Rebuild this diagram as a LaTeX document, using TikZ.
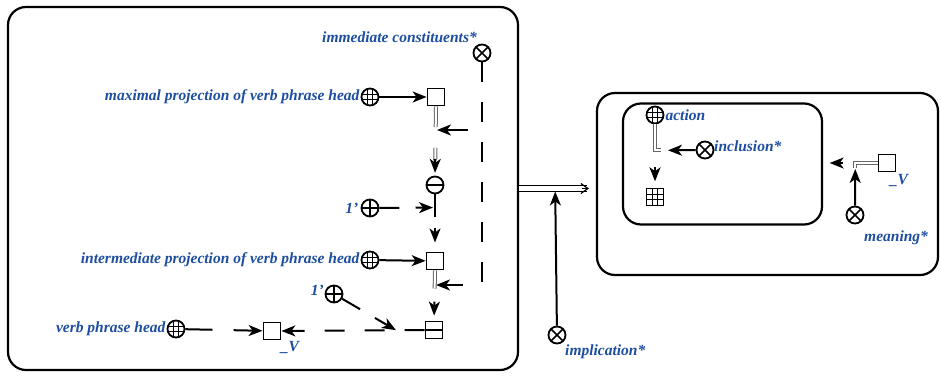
\documentclass[tikz,border=0pt]{standalone}
\usepackage{fontspec}
\setmainfont{Liberation Serif}
\usetikzlibrary{arrows.meta,calc}
\definecolor{lblue}{RGB}{30,78,160}
\tikzset{
  lab/.style={font=\fontsize{15.5}{18}\selectfont\bfseries\itshape, text=lblue, inner sep=0pt},
  ctx/.style={draw, line width=2.2pt, rounded corners=18pt, inner sep=0pt},
  glyph/.style={draw, line width=1.8pt, inner sep=0pt, minimum size=17pt, fill=white},
  circ/.style={glyph, circle},
  sq/.style={glyph, rectangle},
  crossg/.style={circ, path picture={
    \draw[line width=1.6pt] (path picture bounding box.south west) -- (path picture bounding box.north east)
      (path picture bounding box.north west) -- (path picture bounding box.south east);}},
  plusg/.style={circ, path picture={
    \draw[line width=1.6pt] (path picture bounding box.west) -- (path picture bounding box.east)
      (path picture bounding box.north) -- (path picture bounding box.south);}},
  minusg/.style={circ, path picture={
    \draw[line width=1.6pt] (path picture bounding box.west) -- (path picture bounding box.east);}},
  globeg/.style={circ, path picture={
    \foreach \d in {-2.8,2.8}{
      \draw[line width=1.2pt] ([xshift=\d pt]path picture bounding box.north) -- ([xshift=\d pt]path picture bounding box.south)
        ([yshift=\d pt]path picture bounding box.west) -- ([yshift=\d pt]path picture bounding box.east);}}},
  boxminusg/.style={sq, path picture={
    \draw[line width=1.6pt] (path picture bounding box.west) -- (path picture bounding box.east);}},
  gridg/.style={sq, path picture={
    \foreach \d in {-2.8,2.8}{
      \draw[line width=1.1pt] ([xshift=\d pt]path picture bounding box.north) -- ([xshift=\d pt]path picture bounding box.south)
        ([yshift=\d pt]path picture bounding box.west) -- ([yshift=\d pt]path picture bounding box.east);}}},
  ln/.style={line width=2pt},
  arr/.style={line width=2pt, -{Stealth[length=14pt,width=11pt,inset=4pt]}},
  dbl/.style={draw=black!60, double=white, double distance=2pt, line width=1pt},
  bigdbl/.style={draw=black, double=white, double distance=4.5pt, line width=1.2pt},
  dsh/.style={dash pattern=on 20pt off 20pt},
}
\begin{document}
\begin{tikzpicture}[x=1pt,y=-1pt]
\useasboundingbox (0,0) rectangle (941,375);

% contexts
\node[ctx, minimum width=510pt, minimum height=363pt] (ctxL) at (263,188.5) {};
\node[ctx, minimum width=341pt, minimum height=182pt] (ctxR) at (767.5,184) {};
\node[ctx, minimum width=199pt, minimum height=121pt] (inner) at (722.5,164) {};

% left context: glyphs and labels
\node[crossg] (ic) at (482,53) {};
\node[lab, anchor=east] at (477,37) {immediate constituents*};
\node[globeg] (g1) at (370,97) {};
\node[lab, anchor=east] at ([xshift=-1pt]g1.west) {maximal projection of verb phrase head};
\node[sq] (s1) at (436,97) {};
\node[minusg] (neg) at (435,185) {};
\node[plusg] (p1) at (370,208) {};
\node[lab, anchor=east] at ([xshift=-2pt]p1.west) {1'};
\node[globeg] (g2) at (370,260) {};
\node[lab, anchor=east] at ([xshift=-1pt]g2.west) {intermediate projection of verb phrase head};
\node[sq] (s2) at (435,261) {};
\node[boxminusg] (bm) at (434,330) {};
\node[plusg] (p2) at (334,294) {};
\node[lab, anchor=east] at (324,290) {1'};
\node[globeg] (g3) at (176,329) {};
\node[lab, anchor=east] at ([xshift=-1pt]g3.west) {verb phrase head};
\node[sq] (s3) at (272,331) {};
\node[lab] at (290,347) {\_V};

% right context: glyphs and labels
\node[crossg] (impl) at (557,335) {};
\node[lab, anchor=west] at (565,352) {implication*};
\node[globeg] (act) at (655,115) {};
\node[lab, anchor=west] at ([xshift=1pt]act.east) {action};
\node[crossg] (inc) at (705,150) {};
\node[lab, anchor=west] at (714,146) {inclusion*};
\node[gridg] (gs) at (655,197) {};
\node[sq] (sv) at (887,163) {};
\node[lab] at (899,180) {\_V};
\node[crossg] (mean) at (855,215) {};
\node[lab, anchor=west] at (864,238) {meaning*};

% maximal projection -> negated circle
\draw[arr] (g1) -- (s1);
\draw[dbl] (s1.south) -- ($(s1.south)!0.3!(neg.north)$);
\draw[dbl] ($(s1.south)!0.6!(neg.north)$) -- ($(s1.south)!0.78!(neg.north)$);
\draw[arr] ($(s1.south)!0.76!(neg.north)$) -- ($(s1.south)!0.96!(neg.north)$);

% immediate constituents, dashed
\coordinate (c1) at (437,130);
\coordinate (c2) at (436,285);
\coordinate (k1) at (ic.south |- c1);
\coordinate (k2) at (ic.south |- c2);
\draw[ln, dsh] (ic.south) -- (k2);
\draw[arr] ($(k1)!0.31!(c1)$) -- (c1);
\draw[arr] ($(k2)!0.41!(c2)$) -- (c2);

% negated circle -> intermediate projection
\draw[ln] (neg.south) -- ($(neg.south)!0.39!(s2.north)$);
\draw[arr] ($(neg.south)!0.58!(s2.north)$) -- ($(neg.south)!0.84!(s2.north)$);
\coordinate (t1) at ($(neg.south)!0.23!(s2.north)$);
\draw[ln] (p1) -- ($(p1)!0.45!(t1)$);
\draw[arr] ($(p1)!0.7!(t1)$) -- ([xshift=-2pt]t1);

\draw[arr] (g2) -- (s2);
\draw[dbl] (s2.south) -- ($(s2.south)!0.36!(bm.north)$);
\draw[arr] ($(s2.south)!0.62!(bm.north)$) -- ($(s2.south)!0.9!(bm.north)$);

% boxed minus -> verb phrase head, dashed
\draw[arr, dsh] (bm.west) -- (s3.east);
\coordinate (t2) at ($(s3.east)!0.8!(bm.west)$);
\draw[ln] (p2) -- ($(p2)!0.42!(t2)$);
\draw[arr] ($(p2)!0.66!(t2)$) -- (t2);

\draw[ln] (g3) -- ($(g3)!0.38!(s3)$);
\draw[arr] ($(g3)!0.6!(s3)$) -- (s3);

% implication between the contexts
\coordinate (bigend) at (ctxL.east -| ctxR.west);
\draw[bigdbl] (ctxL.east) -- ([xshift=-9pt]bigend);
\draw[line width=1.2pt, -{Straight Barb[length=7pt,width=10pt]}] ([xshift=-14pt]bigend) -- ([xshift=-7pt]bigend);
\coordinate (ip) at ($(ctxL.east)!0.47!(bigend)$);
\draw[arr] (impl) -- ([yshift=-3pt]ip);

% inner context
\coordinate (c3) at ($(act.south)!0.41!(gs.north)$);
\draw[dbl] (act.south) -- (c3) -- ++(6,0);
\draw[arr] (inc) -- ([xshift=13pt]c3);
\draw[arr] ($(act.south)!0.68!(gs.north)$) -- ($(act.south)!0.9!(gs.north)$);

% _V -> inner context, with meaning
\coordinate (ie) at (inner.east |- sv.west);
\coordinate (c4) at ($(sv.west)!0.41!(ie)$);
\draw[dbl] (sv.west) -- (c4) -- ++(0,5);
\draw[arr] ($(sv.west)!0.64!(ie)$) -- ($(sv.west)!0.88!(ie)$);
\draw[arr] (mean) -- ([yshift=-6pt]c4);
\end{tikzpicture}
\end{document}
